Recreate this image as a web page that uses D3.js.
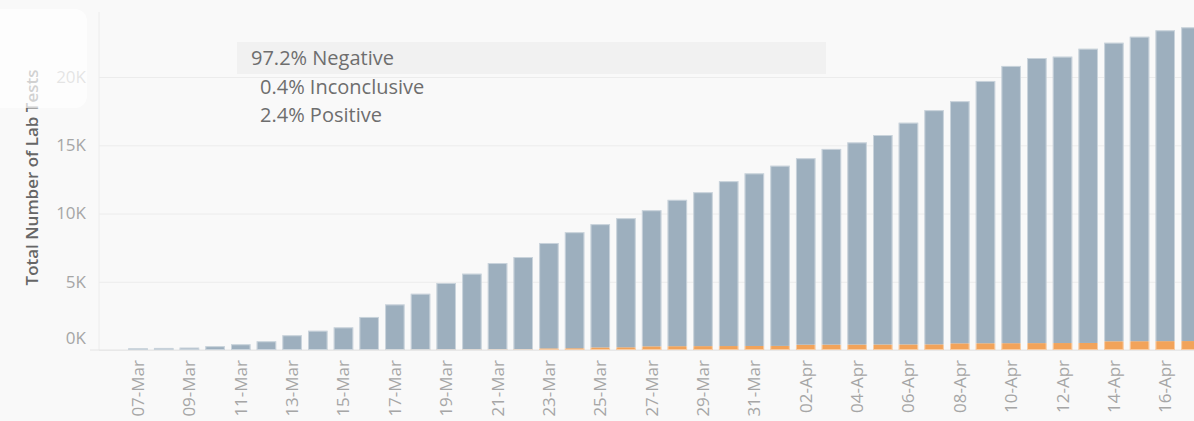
<!DOCTYPE html>
<html>
<head>
<meta charset="utf-8">
<script src="https://cdn.jsdelivr.net/npm/d3@7"></script>
<style>
  body { margin: 0; background: #f9f9f9; }
  svg { display: block; font-family: "Open Sans", sans-serif; }
</style>
</head>
<body>
<svg id="chart" width="1194" height="421"></svg>
<script>
// categories
const dates = [
  '07-Mar', '08-Mar', '09-Mar', '10-Mar', '11-Mar', '12-Mar', '13-Mar', '14-Mar',
  '15-Mar', '16-Mar', '17-Mar', '18-Mar', '19-Mar', '20-Mar', '21-Mar', '22-Mar',
  '23-Mar', '24-Mar', '25-Mar', '26-Mar', '27-Mar', '28-Mar', '29-Mar', '30-Mar',
  '31-Mar', '01-Apr', '02-Apr', '03-Apr', '04-Apr', '05-Apr', '06-Apr', '07-Apr',
  '08-Apr', '09-Apr', '10-Apr', '11-Apr', '12-Apr', '13-Apr', '14-Apr', '15-Apr',
  '16-Apr', '17-Apr'
];

// cumulative lab tests (all results)
const totalTests = [
  130, 150, 170, 280, 420, 640, 1080, 1410,
  1660, 2420, 3340, 4120, 4910, 5590, 6370, 6810,
  7840, 8630, 9220, 9660, 10240, 11000, 11560, 12370,
  12940, 13500, 14050, 14730, 15210, 15750, 16650, 17570,
  18230, 19710, 20810, 21390, 21490, 22070, 22510, 22950,
  23420, 23640
];

// cumulative positive results
const positiveTests = [
  0, 0, 0, 0, 0, 2, 4, 6,
  8, 15, 20, 25, 30, 35, 40, 45,
  120, 130, 190, 200, 270, 280, 285, 290,
  295, 300, 390, 395, 400, 405, 410, 415,
  490, 495, 500, 505, 510, 515, 640, 645,
  650, 655
];

const yTicks = [0, 5000, 10000, 15000, 20000];
const xTickLabels = dates.filter((d, i) => i % 2 === 0);
const legendLabels = ['97.2% Negative', '0.4% Inconclusive', '2.4% Positive'];

const width = 1194;
const height = 421;
const plotLeft = 99;
const baseY = 350;

const svg = d3.select('#chart');

svg.append('rect')
  .attr('width', width)
  .attr('height', height)
  .attr('fill', '#f9f9f9');

const x = d3.scaleBand()
  .domain(dates)
  .range([125.2, 125.2 + dates.length * 25.68])
  .paddingInner(0.24)
  .paddingOuter(0.12);

const y = d3.scaleLinear()
  .domain([0, 20000])
  .range([baseY, 77]);

// gridlines + y axis
const yAxis = svg.append('g')
  .attr('transform', `translate(${plotLeft},0)`)
  .call(d3.axisLeft(y)
    .tickValues(yTicks)
    .tickSize(9)
    .tickPadding(4)
    .tickFormat(d => `${d / 1000}K`));

yAxis.select('.domain').remove();
yAxis.selectAll('.tick line')
  .attr('stroke', '#ececec')
  .attr('x2', width - plotLeft);
yAxis.selectAll('.tick text')
  .attr('fill', '#a6a6a6')
  .attr('font-size', 17)
  .attr('font-family', '"Open Sans", sans-serif')
  .attr('dy', d => d === 0 ? '-0.4em' : '0.32em');

// vertical axis line
svg.append('line')
  .attr('x1', plotLeft).attr('x2', plotLeft)
  .attr('y1', 12).attr('y2', baseY)
  .attr('stroke', '#ececec');

// baseline
svg.append('line')
  .attr('x1', 90).attr('x2', width)
  .attr('y1', baseY).attr('y2', baseY)
  .attr('stroke', '#e4e4e4');

// stacked bars
const rows = dates.map((d, i) => ({
  date: d,
  positive: positiveTests[i],
  negative: totalTests[i] - positiveTests[i]
}));

const series = d3.stack().keys(['positive', 'negative'])(rows);
const colors = { positive: '#f2a35a', negative: '#9dafbe' };

svg.append('g')
  .selectAll('g')
  .data(series)
  .join('g')
    .attr('fill', d => colors[d.key])
  .selectAll('rect')
  .data(d => d)
  .join('rect')
    .attr('x', d => x(d.data.date))
    .attr('y', d => y(d[1]))
    .attr('width', x.bandwidth())
    .attr('height', d => Math.max(0, y(d[0]) - y(d[1])));

// bar outlines
svg.append('g')
  .selectAll('rect')
  .data(rows)
  .join('rect')
    .attr('x', d => x(d.date) + 0.5)
    .attr('y', (d, i) => y(totalTests[i]) + 0.5)
    .attr('width', x.bandwidth() - 1)
    .attr('height', (d, i) => Math.max(0, baseY - y(totalTests[i]) - 1))
    .attr('fill', 'none')
    .attr('stroke', '#ffffff')
    .attr('stroke-opacity', 0.45);

// x axis labels
svg.append('g')
  .selectAll('text')
  .data(xTickLabels)
  .join('text')
    .attr('transform', d => `translate(${x(d) + x.bandwidth() / 2 + 6},360) rotate(-90)`)
    .attr('text-anchor', 'end')
    .attr('fill', '#a6a6a6')
    .attr('font-size', 17)
    .text(d => d);

// y axis title
svg.append('text')
  .attr('transform', 'translate(38,177.5) rotate(-90)')
  .attr('text-anchor', 'middle')
  .attr('fill', '#666')
  .attr('font-size', 17)
  .attr('font-weight', 600)
  .text('Total Number of Lab Tests');

// legend
svg.append('rect')
  .attr('x', 237).attr('y', 42)
  .attr('width', 589).attr('height', 32)
  .attr('fill', '#f1f1f1');

svg.append('g')
  .selectAll('text')
  .data(legendLabels)
  .join('text')
    .attr('x', (d, i) => i === 0 ? 251 : 260)
    .attr('y', (d, i) => 65 + i * 28.5)
    .attr('fill', '#6e6e6e')
    .attr('font-size', 20)
    .text(d => d);

// white panel overlay in the corner
svg.append('rect')
  .attr('x', -12).attr('y', 9)
  .attr('width', 99).attr('height', 99)
  .attr('rx', 12)
  .attr('fill', '#ffffff')
  .attr('fill-opacity', 0.7);
</script>
</body>
</html>
